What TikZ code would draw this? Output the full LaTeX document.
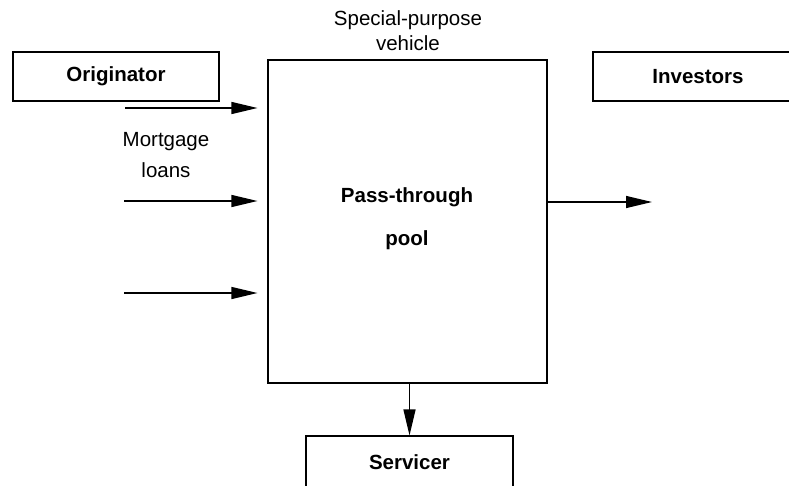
\documentclass[tikz,border=0pt]{standalone}
\usepackage{fontspec}
\setmainfont{Liberation Sans}
\usetikzlibrary{arrows.meta}
\begin{document}
\begin{tikzpicture}[x=1pt,y=-1pt,
  txt/.style={inner sep=0pt,font=\fontsize{20.5}{24}\selectfont},
  btxt/.style={inner sep=0pt,font=\fontsize{20.5}{24}\selectfont\bfseries},
  box/.style={draw,line width=1.1pt,inner sep=0pt,font=\fontsize{20.5}{24}\selectfont\bfseries},
  arr/.style={line width=1.3pt,-{Triangle[length=26pt,width=12pt]}}]
\clip (0,0) rectangle (789,485);
\fill[white] (0,0) rectangle (789,485);
\node[box,minimum width=206pt,minimum height=49pt] (orig) at (116,76.5) {Originator};
\node[box,minimum width=210pt,minimum height=49pt] (inv) at (698,76.5) {Investors};
\node[box,minimum width=207pt,minimum height=54pt] (serv) at (409.5,463) {};
\node[btxt] (servt) at (409.5,462) {Servicer};
\node[draw,line width=1.1pt,minimum width=279pt,minimum height=323pt,inner sep=0pt] (pool) at (407.5,221.5) {};
\node[btxt] (pt) at (407,197) {Pass-through};
\node[btxt] (pl) at (407,240) {pool};
\node[txt] (spv1) at (408,20) {Special-purpose};
\node[txt] (spv2) at (408,43) {vehicle};
\node[txt] (mort1) at (166,142) {Mortgage};
\node[txt] (mort2) at (166,170) {loans};
\coordinate (t1) at (125,108);
\coordinate (t2) at (124,201);
\coordinate (t3) at (124,293);
\coordinate (r1) at (652,202);
\draw[arr,shorten >=10pt] (t1) -- (pool.west |- t1);
\draw[arr,shorten >=10pt] (t2) -- (pool.west |- t2);
\draw[arr,shorten >=10pt] (t3) -- (pool.west |- t3);
\draw[arr] (pool.east |- r1) -- (r1);
\draw[arr] (pool.south -| serv.north) -- (serv.north);
\end{tikzpicture}
\end{document}
